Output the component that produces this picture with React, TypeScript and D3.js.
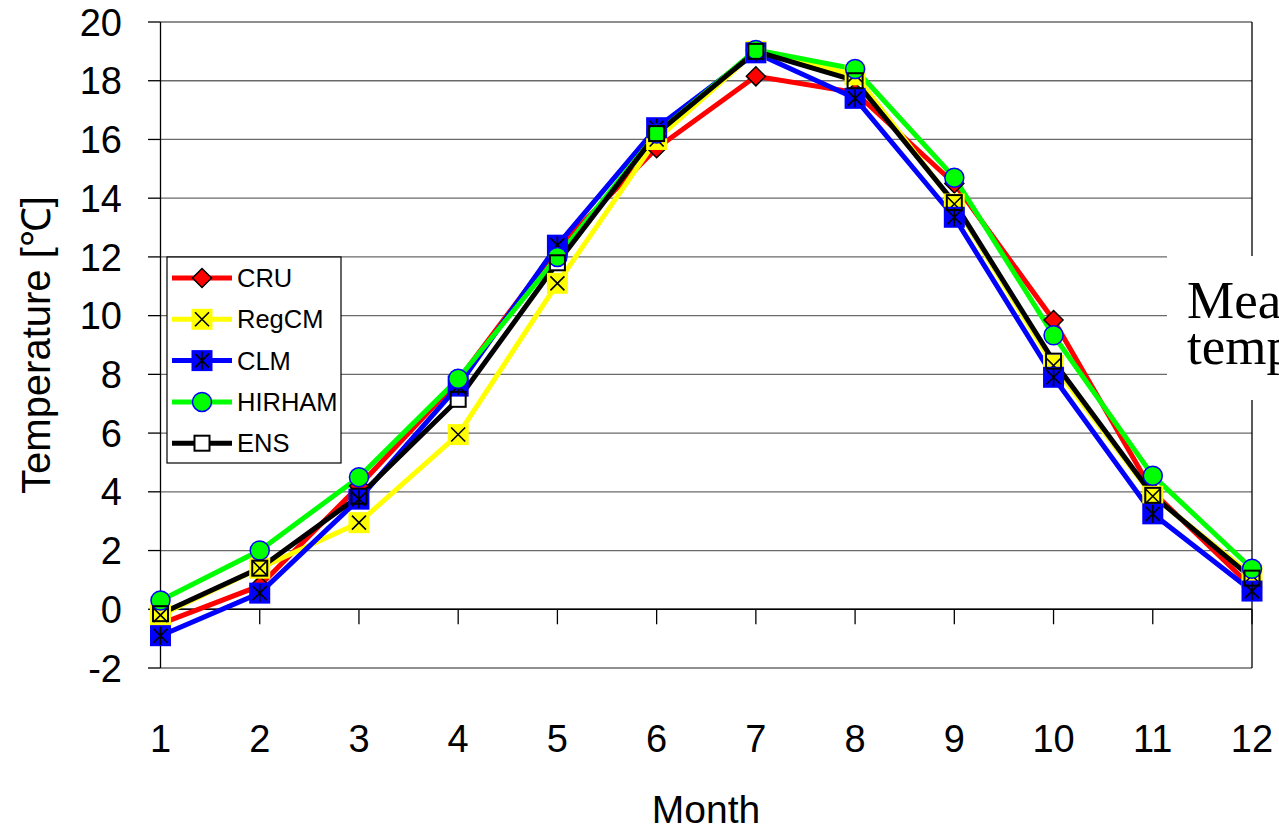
import React from "react";
import * as d3 from "d3";

const months = [1, 2, 3, 4, 5, 6, 7, 8, 9, 10, 11, 12];
const cru = [-0.5, 0.8, 4.2, 7.8, 12.3, 15.7, 18.15, 17.6, 14.5, 9.85, 4.0, 0.75];
const regcm = [-0.2, 1.4, 2.95, 5.95, 11.1, 16.0, 19.0, 18.2, 13.8, 8.3, 3.85, 1.15];
const clm = [-0.9, 0.55, 3.75, 7.6, 12.4, 16.4, 18.95, 17.4, 13.35, 7.9, 3.25, 0.62];
const hirham = [0.3, 2.0, 4.5, 7.85, 12.0, 16.2, 19.05, 18.4, 14.7, 9.33, 4.55, 1.38];
const ens = [-0.15, 1.4, 3.85, 7.15, 11.8, 16.2, 19.0, 18.0, 13.85, 8.45, 3.88, 1.06];
const yTicks = [-2, 0, 2, 4, 6, 8, 10, 12, 14, 16, 18, 20];
const seriesNames = ["CRU", "RegCM", "CLM", "HIRHAM", "ENS"];
const seriesColors = ["#ff0000", "#ffff00", "#0000ff", "#00ff00", "#000000"];
const seriesData = [cru, regcm, clm, hirham, ens];

const W = 1279;
const H = 830;
const x = d3.scaleLinear().domain([1, 12]).range([160.5, 1252]);
const y = d3.scaleLinear().domain([-2, 20]).range([668, 22]);
const sans = "'Liberation Sans', Arial, sans-serif";

function Marker({ kind, cx, cy, part }: { kind: number; cx: number; cy: number; part?: string }) {
  if (kind === 0) {
    const r = 9.5;
    return (
      <path
        d={`M${cx},${cy - r}L${cx + r},${cy}L${cx},${cy + r}L${cx - r},${cy}Z`}
        fill="#ff0000"
        stroke="#000"
        strokeWidth={1.5}
      />
    );
  }
  if (kind === 1) {
    const s = 10.5;
    const c = 7;
    return (
      <g>
        <rect x={cx - s} y={cy - s} width={2 * s} height={2 * s} fill="#ffff00" />
        <path d={`M${cx - c},${cy - c}L${cx + c},${cy + c}M${cx + c},${cy - c}L${cx - c},${cy + c}`} stroke="#000" strokeWidth={1.6} />
      </g>
    );
  }
  if (kind === 2) {
    const s = 10.5;
    const c = 7;
    return (
      <g>
        <rect x={cx - s} y={cy - s} width={2 * s} height={2 * s} fill="#0000ff" />
        <path
          d={`M${cx - c},${cy - c}L${cx + c},${cy + c}M${cx + c},${cy - c}L${cx - c},${cy + c}M${cx},${cy - 9}L${cx},${cy + 9}`}
          stroke="#000"
          strokeWidth={1.6}
        />
      </g>
    );
  }
  if (kind === 3) {
    return <circle cx={cx} cy={cy} r={9.5} fill="#00ff00" stroke="#0000ff" strokeWidth={1.5} />;
  }
  const s = 7.5;
  if (part === "fill") {
    return <rect x={cx - s} y={cy - s} width={2 * s} height={2 * s} fill="#fff" />;
  }
  if (part === "stroke") {
    return <rect x={cx - s} y={cy - s} width={2 * s} height={2 * s} fill="none" stroke="#000" strokeWidth={2} />;
  }
  return <rect x={cx - s} y={cy - s} width={2 * s} height={2 * s} fill="#fff" stroke="#000" strokeWidth={2} />;
}

export default function App() {
  const line = d3
    .line<number>()
    .x((_, i) => x(months[i]))
    .y((d) => y(d));
  const x0 = x(1);
  const x1 = x(12);
  const legendX = 167;
  const legendY = 257;
  const rowY = (i: number) => 278 + i * 41.3;

  return (
    <svg width={W} height={H} style={{ position: "absolute", left: 0, top: 0, background: "#fff" }}>
      {/* gridlines */}
      {yTicks.map((t) => (
        <line key={"g" + t} x1={x0} x2={x1} y1={y(t)} y2={y(t)} stroke="#6a6a6a" strokeWidth={1.3} />
      ))}
      {/* left axis ticks and labels */}
      {yTicks.map((t) => (
        <g key={"yt" + t}>
          <line x1={148} x2={x0} y1={y(t)} y2={y(t)} stroke="#000" strokeWidth={1.3} />
          <text x={122} y={y(t)} dy="0.36em" textAnchor="end" fontFamily={sans} fontSize={38} fill="#000">
            {t}
          </text>
        </g>
      ))}
      {/* plot borders */}
      <line x1={x0} x2={x0} y1={y(20)} y2={y(-2)} stroke="#000" strokeWidth={1.3} />
      <line x1={x1} x2={x1} y1={y(20)} y2={y(-2)} stroke="#000" strokeWidth={1.3} />
      {/* x axis at zero */}
      <line x1={x0} x2={x1} y1={y(0)} y2={y(0)} stroke="#000" strokeWidth={1.3} />
      {months.map((m) => (
        <g key={"xt" + m}>
          <line x1={x(m)} x2={x(m)} y1={y(0)} y2={y(0) + 15} stroke="#000" strokeWidth={1.3} />
          <text x={x(m)} y={752} textAnchor="middle" fontFamily={sans} fontSize={38} fill="#000">
            {m}
          </text>
        </g>
      ))}
      {/* series lines */}
      {seriesData.map((d, i) => (
        <path key={"l" + i} d={line(d) || ""} fill="none" stroke={seriesColors[i]} strokeWidth={5} strokeLinejoin="round" />
      ))}
      {/* ENS fill first */}
      {ens.map((v, j) => (
        <Marker key={"ef" + j} kind={4} part="fill" cx={x(months[j])} cy={y(v)} />
      ))}
      {[0, 1, 2, 3].map((k) =>
        seriesData[k].map((v, j) => <Marker key={"m" + k + "-" + j} kind={k} cx={x(months[j])} cy={y(v)} />)
      )}
      {ens.map((v, j) => (
        <Marker key={"es" + j} kind={4} part="stroke" cx={x(months[j])} cy={y(v)} />
      ))}
      {/* legend */}
      <rect x={legendX} y={legendY} width={174} height={206} fill="#fff" stroke="#000" strokeWidth={1.2} />
      {seriesNames.map((n, i) => (
        <g key={"lg" + i}>
          <line x1={172} x2={232} y1={rowY(i)} y2={rowY(i)} stroke={seriesColors[i]} strokeWidth={5} />
          <Marker kind={i} cx={202} cy={rowY(i)} />
          <text x={237} y={rowY(i)} dy="0.36em" fontFamily={sans} fontSize={25.5} fill="#000">
            {n}
          </text>
        </g>
      ))}
      {/* axis titles */}
      <text x={706} y={823} textAnchor="middle" fontFamily={sans} fontSize={39} fill="#000">
        Month
      </text>
      <text transform="translate(50,345) rotate(-90)" textAnchor="middle" fontFamily={sans} fontSize={40} fill="#000">
        Temperature [℃]
      </text>
      {/* overlapping text box */}
      <rect x={1167} y={256} width={112} height={144} fill="#fff" />
      <text fontFamily="'Liberation Serif', 'Times New Roman', serif" fontSize={53} fill="#000">
        <tspan x={1187} y={318}>Mean</tspan>
        <tspan x={1187} y={364}>temperature</tspan>
      </text>
    </svg>
  );
}
